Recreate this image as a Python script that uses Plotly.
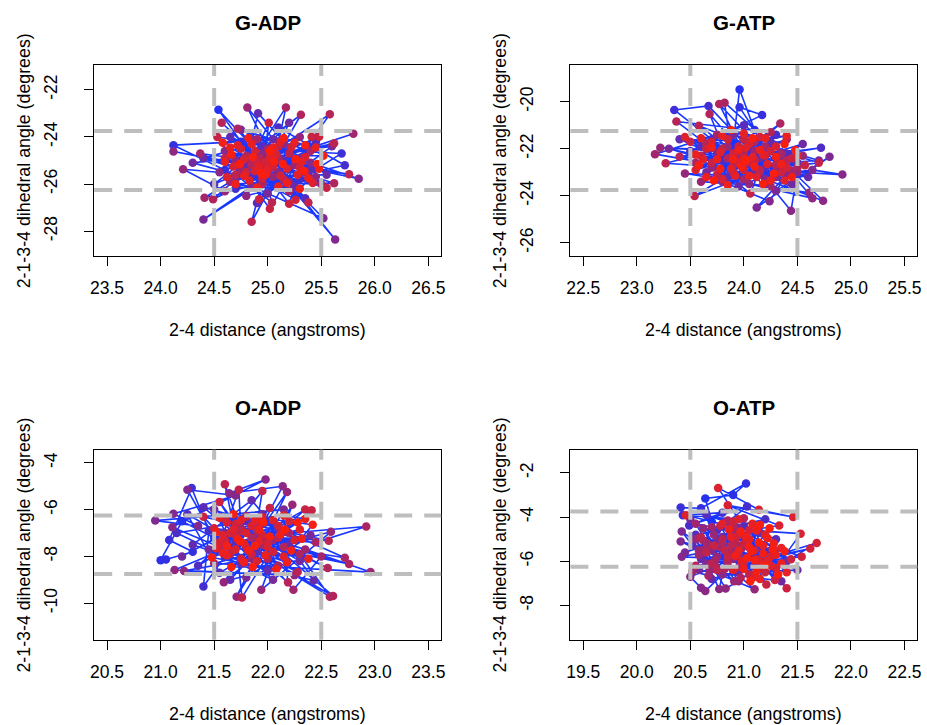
import plotly.graph_objects as go

W, H = 927, 725

# ---------------- data ----------------
gadp = [
(25.00,-25.10),(24.54,-22.85),(24.75,-24.20),(24.12,-24.35),(24.60,-25.40),(25.20,-24.60),(25.69,-24.70),(25.30,-25.80),(24.70,-26.20),(25.72,-25.20),
(25.10,-23.60),(24.85,-25.60),(25.35,-26.60),(24.95,-24.40),(24.50,-26.00),(25.45,-24.20),(24.90,-26.80),(25.15,-25.00),(24.65,-24.00),(25.40,-25.40),
(24.91,-23.00),(24.80,-25.20),(25.25,-26.10),(24.40,-24.90),(25.05,-24.10),(25.55,-25.60),(24.70,-25.80),(25.20,-23.40),(24.95,-25.90),(24.30,-25.10),
(25.60,-24.40),(25.00,-26.40),(24.75,-23.70),(25.30,-24.90),(24.40,-27.50),(24.85,-26.10),(25.52,-27.45),(25.10,-25.50),(25.63,-28.35),(25.20,-25.90),
(24.60,-24.60),(25.85,-25.77),(25.40,-25.10),(24.95,-24.70),(24.55,-25.50),(25.15,-24.30),(24.80,-26.50),(25.45,-25.70),(24.12,-24.62),(24.90,-25.30),
(25.30,-24.00),(24.70,-25.00),(25.05,-25.70),(24.21,-25.37),(24.60,-26.30),(25.25,-25.20),(24.81,-22.75),(25.00,-24.50),(25.50,-26.00),(24.75,-25.40),
(25.80,-23.87),(25.10,-24.90),(24.65,-25.90),(24.41,-26.58),(25.35,-25.50),(24.90,-24.10),(25.20,-26.30),(24.37,-24.70),(24.85,-25.00),(25.17,-22.75),
(25.05,-25.30),(24.72,-23.65),(25.40,-24.60),(24.95,-26.00),(25.62,-25.96),(24.80,-24.80),(25.31,-23.06),(25.00,-25.50),(24.49,-26.64),(24.85,-25.20),
(25.58,-23.04),(25.15,-25.80),(24.57,-23.40),(24.92,-24.90),(25.04,-26.78),(24.70,-25.60),(25.62,-24.27),(25.20,-24.70),(24.85,-27.60),(25.00,-25.00),
(25.76,-25.58),(24.60,-24.90),(25.38,-26.78),(24.95,-25.40),(25.55,-26.16),(25.10,-24.40),(24.53,-24.00),(25.02,-27.05),(25.41,-23.99),(25.20,-26.83),
(24.90,-25.10),(25.48,-23.99),(24.92,-26.64),(25.01,-23.40),(24.80,-25.50),(25.26,-26.66),(25.05,-25.20),(24.75,-24.50),(25.30,-25.30),(24.98,-25.05),
(24.88,-24.60),(25.12,-25.65),(24.68,-25.25),(25.22,-24.45),(24.95,-25.75),(25.35,-24.85),(24.78,-24.95),(25.08,-24.75),(24.62,-25.70),(25.18,-25.35),
(24.88,-25.45),(25.42,-25.95),(24.72,-24.35),(25.02,-24.85),(25.28,-25.60),(24.83,-25.85),(25.12,-24.20),(24.92,-25.25),(25.32,-25.05),(25.00,-25.35),
(24.65,-24.45),(24.85,-24.30),(25.05,-24.45),(25.25,-24.25),(25.45,-24.45),(24.60,-25.05),(24.78,-25.65),(24.98,-25.60),(25.18,-25.95),(25.38,-25.75),
(24.70,-26.00),(24.90,-26.15),(25.10,-26.10),(25.30,-26.20),(25.48,-25.35),(24.58,-24.25),(24.82,-24.05),(25.15,-24.05),(25.35,-24.35),(25.52,-24.80),
(24.66,-24.75),(24.86,-24.85),(25.06,-25.05),(25.26,-24.95),(25.46,-25.15),(24.74,-25.15),(24.94,-25.55),(25.14,-25.15),(25.34,-25.45),(25.02,-24.60),
]

gatp = [
(23.90,-21.80),(23.96,-19.48),(24.10,-21.20),(23.96,-20.24),(24.17,-20.57),(23.70,-21.60),(23.35,-20.35),(23.67,-20.18),(24.05,-22.00),(24.30,-21.40),
(23.80,-22.50),(24.72,-21.96),(24.40,-22.20),(23.60,-21.90),(24.20,-22.80),(23.50,-22.10),(24.00,-21.00),(24.50,-22.60),(23.85,-23.20),(24.25,-21.70),
(23.40,-21.60),(24.10,-23.00),(24.60,-23.20),(23.75,-22.20),(24.35,-22.90),(23.95,-23.60),(24.55,-21.80),(23.65,-23.00),(24.15,-22.40),(24.45,-23.50),
(23.30,-22.00),(24.00,-22.70),(24.70,-22.50),(23.90,-21.40),(24.30,-23.80),(24.80,-22.34),(24.12,-24.50),(24.40,-23.10),(24.24,-24.23),(23.80,-23.40),
(24.64,-22.90),(24.92,-23.10),(24.50,-23.00),(24.44,-24.64),(24.20,-23.30),(24.74,-24.21),(24.35,-22.50),(24.64,-24.10),(24.05,-23.50),(24.61,-23.87),
(23.45,-23.05),(24.30,-23.20),(23.70,-22.80),(24.55,-22.30),(23.22,-21.96),(24.10,-22.10),(24.45,-22.95),(23.85,-21.90),(24.25,-23.60),(23.60,-23.40),
(24.40,-21.60),(23.95,-22.30),(24.15,-23.00),(23.17,-22.23),(23.75,-21.40),(24.35,-22.20),(24.00,-23.30),(23.55,-22.60),(24.20,-21.90),(24.50,-22.80),
(23.82,-20.04),(23.90,-22.70),(24.34,-20.93),(24.10,-21.70),(23.77,-20.10),(24.00,-22.20),(23.68,-20.52),(23.85,-22.40),(24.25,-21.30),(23.37,-20.84),
(23.65,-21.80),(24.05,-22.60),(23.58,-21.02),(24.40,-22.50),(23.40,-22.34),(23.80,-22.00),(23.27,-22.62),(24.15,-22.90),(23.60,-22.30),(24.30,-22.70),
(23.54,-24.01),(23.90,-23.00),(24.70,-22.60),(24.00,-21.60),(24.57,-22.70),(23.70,-22.60),(24.06,-23.90),(24.20,-22.30),(23.50,-21.70),(24.45,-22.40),
(23.95,-21.90),(24.10,-22.50),(23.75,-23.10),(24.35,-23.00),(23.85,-21.60),(24.00,-22.90),(24.25,-22.10),(23.65,-22.00),(24.15,-21.50),(23.90,-22.20),
(24.40,-22.80),(23.80,-23.30),(24.05,-21.80),(23.55,-22.90),(24.30,-21.90),(23.95,-22.60),(24.50,-22.30),(23.70,-21.70),(24.12,-23.20),(24.00,-22.40),
(23.45,-21.50),(23.88,-22.85),(24.22,-22.65),(23.78,-22.15),(24.38,-23.35),(24.02,-21.95),(23.62,-22.45),(24.18,-22.25),(23.92,-23.15),(24.08,-22.35),
(23.60,-21.55),(23.80,-21.45),(24.00,-21.35),(24.20,-21.55),(24.40,-21.45),(23.55,-22.25),(23.75,-22.45),(23.95,-22.05),(24.15,-22.05),(24.35,-22.65),
(23.65,-23.20),(23.85,-23.55),(24.05,-23.15),(24.25,-23.35),(24.45,-23.20),(23.70,-21.95),(23.90,-22.45),(24.10,-22.75),(24.30,-22.35),(24.48,-22.05),
(23.58,-22.70),(23.78,-22.85),(23.98,-22.75),(24.18,-23.50),(24.38,-21.80),(23.88,-21.20),(24.08,-21.55),(23.72,-23.35),(24.28,-23.05),(24.02,-22.50),
]

oadp = [
(21.50,-7.20),(21.20,-6.50),(21.00,-8.16),(21.05,-8.13),(21.30,-7.80),(21.08,-7.30),(21.29,-5.08),(21.45,-6.90),(21.40,-9.29),(21.60,-8.00),
(21.15,-7.00),(21.80,-6.50),(21.35,-8.40),(21.70,-7.40),(21.25,-6.20),(21.55,-8.70),(21.90,-7.80),(21.40,-5.90),(22.10,-6.80),(21.65,-9.00),
(22.00,-8.60),(21.30,-7.50),(21.85,-5.60),(22.20,-7.50),(22.43,-9.03),(21.75,-8.30),(21.50,-6.00),(22.30,-8.20),(21.95,-6.20),(21.20,-8.00),
(21.60,-7.00),(22.05,-9.00),(21.45,-7.70),(22.40,-7.10),(21.80,-8.90),(22.15,-6.00),(20.95,-6.47),(21.35,-6.70),(21.12,-6.18),(21.70,-5.40),
(21.25,-5.15),(21.55,-7.60),(21.11,-6.75),(21.98,-4.71),(21.64,-5.30),(22.14,-5.00),(21.90,-7.10),(21.13,-8.58),(22.25,-8.80),(21.22,-8.62),
(21.85,-8.10),(21.59,-9.10),(22.18,-5.25),(21.71,-9.72),(22.23,-5.79),(21.94,-9.43),(22.59,-6.95),(21.50,-8.30),(22.96,-8.67),(22.35,-7.70),
(22.05,-7.30),(21.75,-6.80),(22.24,-9.43),(22.50,-8.00),(21.65,-7.90),(22.10,-8.40),(21.95,-7.50),(22.72,-8.06),(22.20,-7.00),(22.92,-6.72),
(22.45,-7.40),(21.85,-7.20),(22.76,-8.32),(22.30,-7.90),(22.58,-9.72),(22.00,-8.10),(22.61,-9.69),(21.90,-6.90),(22.56,-8.50),(22.15,-7.60),
(22.19,-9.11),(21.80,-7.60),(22.28,-8.67),(21.60,-6.40),(22.57,-7.33),(22.10,-7.20),(21.76,-9.76),(21.70,-7.10),(21.60,-4.92),(21.75,-6.90),
(21.73,-5.15),(21.55,-7.50),(21.95,-5.20),(21.90,-6.60),(22.02,-5.93),(21.65,-7.80),(22.35,-6.00),(22.00,-7.40),(22.41,-6.03),(21.85,-7.90),
(21.55,-5.67),(21.70,-6.60),(21.40,-6.31),(21.60,-7.30),(21.80,-6.30),(22.05,-7.80),(21.50,-6.80),(21.95,-7.10),(22.20,-6.50),(21.65,-7.00),
(21.75,-8.10),(22.10,-6.70),(21.55,-7.40),(21.85,-6.70),(22.00,-7.60),(21.62,-6.55),(21.90,-8.20),(22.25,-7.30),(21.70,-7.70),(21.58,-7.10),
(22.15,-8.00),(21.80,-7.00),(21.68,-6.85),(22.05,-6.45),(21.52,-7.65),(21.92,-7.35),(22.30,-6.85),(21.78,-7.45),(21.62,-7.95),(21.88,-6.45),
(21.55,-6.35),(21.75,-6.45),(21.95,-6.35),(22.15,-6.25),(22.35,-6.40),(21.58,-7.85),(21.78,-8.25),(21.98,-7.95),(22.18,-8.25),(22.38,-8.10),
(21.52,-6.95),(21.72,-7.25),(21.92,-6.85),(22.12,-7.05),(22.32,-7.25),(21.62,-7.55),(21.82,-7.75),(22.02,-7.15),(22.22,-7.75),(22.42,-6.65),
(21.68,-6.20),(21.88,-7.55),(22.08,-8.55),(21.48,-8.05),(22.28,-6.55),(21.66,-8.45),(21.86,-8.45),(21.96,-6.55),(22.16,-6.85),(21.74,-7.35),
]

oatp = [
(20.70,-4.20),(20.64,-3.16),(20.90,-3.00),(21.02,-2.48),(20.60,-3.60),(20.41,-3.57),(20.43,-3.92),(20.80,-3.80),(20.49,-4.38),(21.03,-3.52),
(20.75,-4.60),(21.20,-4.10),(20.55,-4.80),(21.00,-4.40),(20.65,-3.90),(21.30,-5.00),(20.85,-5.60),(20.52,-5.30),(21.10,-6.20),(20.70,-6.80),
(21.40,-6.00),(20.60,-5.90),(21.25,-5.60),(20.95,-6.50),(21.50,-6.40),(20.80,-4.90),(21.15,-4.70),(20.58,-6.40),(21.35,-6.90),(20.90,-5.20),
(20.50,-4.10),(21.05,-5.80),(20.75,-5.10),(20.45,-5.60),(20.95,-4.50),(20.65,-6.10),(20.42,-4.65),(20.85,-6.20),(20.41,-5.10),(20.70,-5.50),
(20.42,-5.80),(20.90,-5.90),(20.50,-6.70),(20.60,-7.20),(20.64,-7.35),(20.80,-6.60),(20.77,-7.26),(20.55,-5.00),(20.83,-7.23),(20.95,-6.90),
(20.62,-4.50),(20.75,-5.80),(21.10,-7.27),(20.68,-6.40),(20.88,-4.70),(20.58,-5.50),(20.91,-6.90),(20.72,-4.80),(20.98,-5.40),(20.66,-5.20),
(20.55,-4.30),(20.70,-4.45),(20.58,-5.70),(20.73,-5.95),(20.52,-6.45),(20.67,-6.65),(20.62,-5.05),(20.77,-5.35),(20.58,-4.95),(20.74,-6.25),
(20.64,-5.45),(20.80,-5.20),(20.82,-6.35),(20.88,-5.65),(20.85,-4.15),(20.92,-5.15),(20.90,-4.45),(20.96,-6.25),(20.97,-6.75),(21.00,-4.05),
(20.85,-6.00),(20.55,-6.20),(20.80,-5.00),(20.70,-6.10),(20.95,-5.70),(20.60,-4.90),(20.88,-5.30),(20.75,-6.40),(21.00,-6.10),(20.65,-5.60),
(20.82,-5.50),(21.05,-6.60),(20.78,-4.40),(20.92,-5.00),(21.12,-5.90),(20.72,-5.30),(21.20,-6.50),(20.85,-5.80),(21.21,-7.05),(21.00,-5.20),
(21.29,-6.85),(20.90,-4.20),(21.40,-7.22),(21.10,-5.50),(21.44,-5.91),(20.95,-4.80),(21.54,-5.79),(21.15,-6.00),(21.62,-5.42),(21.25,-5.80),
(21.68,-5.17),(21.30,-6.30),(21.53,-4.75),(21.05,-4.60),(21.33,-4.38),(20.85,-3.47),(21.46,-4.00),(21.14,-3.67),(20.76,-2.68),(20.95,-4.10),
(20.46,-3.92),(21.20,-4.80),(20.80,-4.30),(21.10,-6.70),(21.35,-5.40),(20.90,-6.40),(21.25,-6.20),(21.05,-5.00),(21.40,-6.50),(20.98,-6.00),
(21.18,-5.30),(20.88,-4.90),(21.30,-5.70),(21.08,-4.30),(21.22,-6.00),(20.95,-5.50),(21.15,-6.80),(21.02,-4.90),(21.35,-6.10),(20.92,-5.75),
(21.12,-4.60),(21.28,-5.20),(21.00,-6.35),(20.86,-4.55),(21.18,-5.65),(21.05,-5.35),(21.38,-5.55),(20.97,-4.65),(21.22,-4.95),(21.10,-5.95),
(21.15,-4.35),(21.03,-5.85),(21.18,-6.20),(21.12,-6.45),(21.07,-5.55),(21.27,-5.45),(21.06,-6.90),(21.24,-4.50),(21.14,-5.15),(21.32,-6.60),
]

titles = ["G-ADP", "G-ATP", "O-ADP", "O-ATP"]
x_ticks = [
    [23.5, 24.0, 24.5, 25.0, 25.5, 26.0, 26.5],
    [22.5, 23.0, 23.5, 24.0, 24.5, 25.0, 25.5],
    [20.5, 21.0, 21.5, 22.0, 22.5, 23.0, 23.5],
    [19.5, 20.0, 20.5, 21.0, 21.5, 22.0, 22.5],
]
y_ticks = [
    [-22, -24, -26, -28],
    [-20, -22, -24, -26],
    [-4, -6, -8, -10],
    [-2, -4, -6, -8],
]
v_lines = [[24.5, 25.5], [23.5, 24.5], [21.5, 22.5], [20.5, 21.5]]
h_lines = [[-23.75, -26.25], [-21.25, -23.75], [-6.25, -8.75], [-3.75, -6.25]]
x_label = "2-4 distance (angstroms)"
y_label = "2-1-3-4 dihedral angle (degrees)"

# ---------------- layout geometry (pixels) ----------------
x_ranges = [[23.38, 26.62], [22.38, 25.62], [20.38, 23.62], [19.38, 22.62]]
y_ranges = [[-29.05, -20.95], [-26.56, -18.44], [-11.56, -3.44], [-9.55, -0.95]]
boxes = [(91, 441, 65, 256), (571.3, 921.3, 65, 256),
         (91, 441, 449.7, 639.7), (571.3, 921.3, 449.7, 639.7)]

FONT = "Liberation Sans, Arial, Helvetica, sans-serif"


def ramp(n):
    # time colouring from blue (first frame) to red (last frame)
    c0 = (25, 50, 255)
    c1 = (255, 30, 10)
    out = []
    for i in range(n):
        t = (i / (n - 1)) ** 0.55
        r = round(c0[0] + (c1[0] - c0[0]) * t)
        g = round(c0[1] + (c1[1] - c0[1]) * t)
        b = round(c0[2] + (c1[2] - c0[2]) * t)
        out.append(f"rgb({r},{g},{b})")
    return out


fig = go.Figure()
datasets = [gadp, gatp, oadp, oatp]
annotations = []
shapes = []

for k, pts in enumerate(datasets):
    xs = [p[0] for p in pts]
    ys = [p[1] for p in pts]
    sfx = "" if k == 0 else str(k + 1)
    xa, ya = "x" + sfx, "y" + sfx
    fig.add_trace(go.Scatter(x=xs, y=ys, mode="lines", xaxis=xa, yaxis=ya,
                             line=dict(color="rgb(25,55,255)", width=1.6),
                             hoverinfo="skip"))
    fig.add_trace(go.Scatter(x=xs, y=ys, mode="markers", xaxis=xa, yaxis=ya,
                             marker=dict(color=ramp(len(pts)), size=8.5,
                                         line=dict(width=0))))
    x0, x1, y0, y1 = boxes[k]
    axis_common = dict(showgrid=False, zeroline=False, showline=True, mirror=True,
                       linecolor="black", linewidth=1.3, ticks="outside",
                       ticklen=9, tickwidth=1.3, tickcolor="black",
                       tickfont=dict(family=FONT, size=17.5, color="black"))
    fig.layout["xaxis" + sfx] = dict(
        domain=[x0 / W, x1 / W], range=x_ranges[k], anchor=ya,
        tickvals=x_ticks[k], ticktext=[f"{v:.1f}" for v in x_ticks[k]],
        ticklabelstandoff=7, **axis_common)
    fig.layout["yaxis" + sfx] = dict(
        domain=[1 - y1 / H, 1 - y0 / H], range=y_ranges[k], anchor=xa,
        tickvals=y_ticks[k], ticktext=[str(v) for v in y_ticks[k]],
        tickangle=-90, ticklabelstandoff=20, **axis_common)

    for v in v_lines[k]:
        shapes.append(dict(type="line", xref=xa, yref=ya + " domain", x0=v, x1=v,
                           y0=0, y1=1, layer="above",
                           line=dict(color="#BEBEBE", width=4, dash="18px,12px")))
    for h in h_lines[k]:
        shapes.append(dict(type="line", xref=xa + " domain", yref=ya, x0=0, x1=1,
                           y0=h, y1=h, layer="above",
                           line=dict(color="#BEBEBE", width=4, dash="18px,12px")))

    cx = (x0 + x1) / 2
    ttl_y = 22 if k < 2 else 407
    xl_y = 330 if k < 2 else 714
    yl_x = 20 if k % 2 == 0 else 500
    cy = (y0 + y1) / 2
    annotations.append(dict(text=f"<b>{titles[k]}</b>", x=cx / W, y=1 - ttl_y / H,
                            xref="paper", yref="paper", showarrow=False,
                            xanchor="center", yanchor="middle",
                            font=dict(family=FONT, size=20.5, color="black")))
    annotations.append(dict(text=x_label, x=cx / W, y=1 - xl_y / H,
                            xref="paper", yref="paper", showarrow=False,
                            xanchor="center", yanchor="middle",
                            font=dict(family=FONT, size=17.8, color="black")))
    annotations.append(dict(text=y_label, x=yl_x / W, y=1 - cy / H, textangle=-90,
                            xref="paper", yref="paper", showarrow=False,
                            xanchor="center", yanchor="middle",
                            font=dict(family=FONT, size=17.8, color="black")))

fig.update_layout(width=W, height=H, margin=dict(l=0, r=0, t=0, b=0),
                  paper_bgcolor="white", plot_bgcolor="white", showlegend=False,
                  shapes=shapes, annotations=annotations)

fig.write_html("out.html", config={"displayModeBar": False},
               post_script="document.body.style.margin='0';document.body.style.padding='0';")
